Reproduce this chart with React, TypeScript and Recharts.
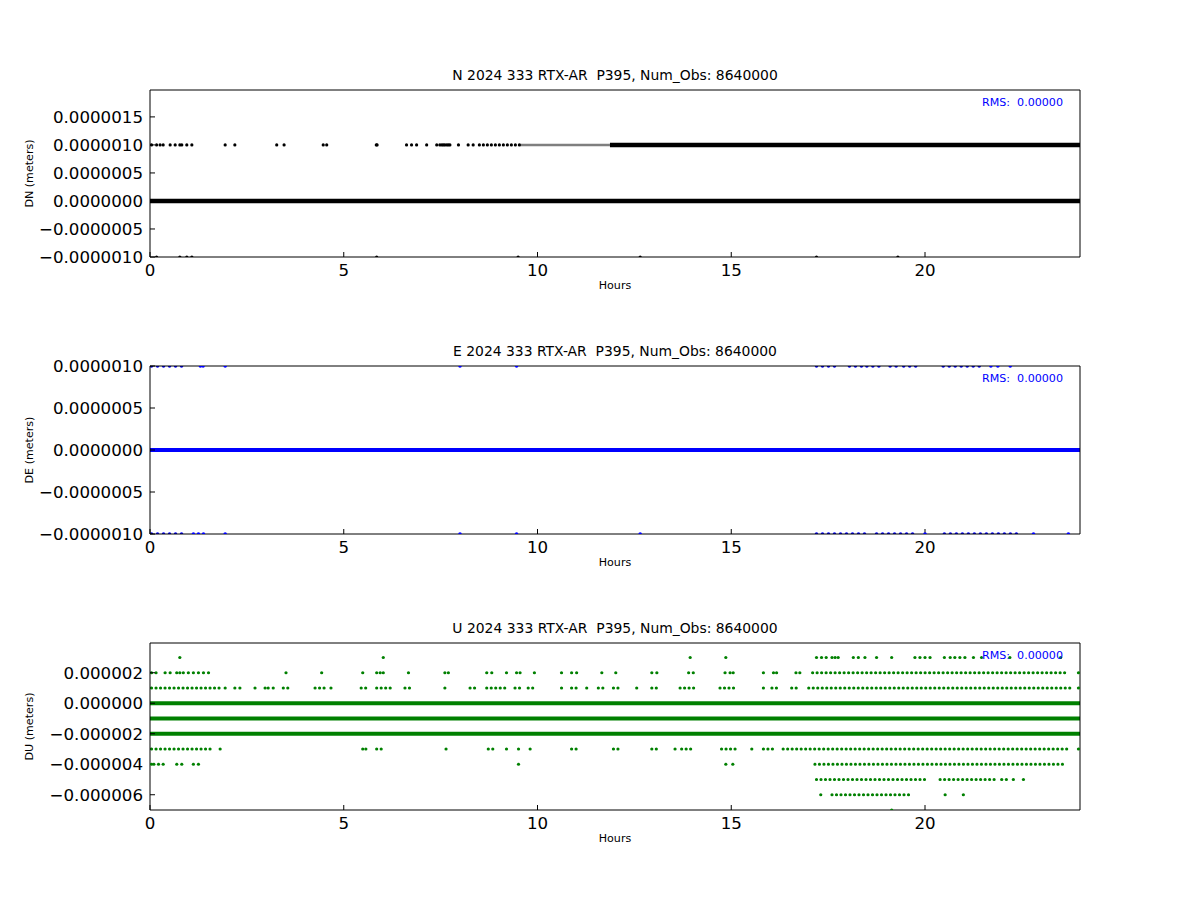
import { ComposedChart, Label, Line, Scatter, XAxis, YAxis } from 'recharts'

type Run = [number, number]
type Row = { v: number; solid?: Run[]; dense?: Run[]; faint?: Run[]; dots?: number[] }

const HOUR_TICKS = [0, 5, 10, 15, 20]

// N component (meters)
const N_TICKS = [-1e-6, -0.5e-6, 0, 0.5e-6, 1e-6, 1.5e-6]
const N_ZERO: Run[] = [[0, 24]]
const N_UP_SOLID: Run[] = [[11.87, 24]]
const N_UP_DENSE: Run[] = [[8.5, 9.55]]
const N_UP_FAINT: Run[] = [[9.55, 11.87]]
const N_UP_DOTS = [
  0.04, 0.17, 0.26, 0.34, 0.52, 0.65, 0.77, 0.82, 0.95, 1.08, 1.94, 2.19, 3.27, 3.46, 4.47, 4.56, 5.84, 5.86,
  6.62, 6.75, 6.88, 7.14, 7.4, 7.48, 7.53, 7.57, 7.61, 7.66, 7.7, 7.74, 7.96, 8.21, 8.34,
]
const N_DOWN_DOTS = [0.17, 0.77, 0.95, 1.08, 5.85, 9.5, 12.65, 17.2, 19.3]

// E component
const E_TICKS = [-1e-6, -0.5e-6, 0, 0.5e-6, 1e-6]
const E_ZERO: Run[] = [[0, 24]]
const E_UP_RUNS: Run[] = [[0.04, 0.95], [17.2, 17.8], [18.05, 18.4], [18.5, 18.9], [19.1, 19.35], [19.45, 19.87], [20.47, 21.42]]
const E_UP_DOTS = [1.3, 1.37, 1.94, 8.0, 9.46, 21.7, 21.88, 22.2]
const E_DOWN_RUNS: Run[] = [[0.04, 0.95], [17.2, 18.5], [18.75, 19.78], [20.5, 22.5]]
const E_DOWN_DOTS = [1.12, 1.25, 1.38, 1.94, 8.0, 9.46, 12.65, 20.0, 22.8, 23.7]

// U component
const U_TICKS = [-6e-6, -4e-6, -2e-6, 0, 2e-6]
const U_FULL: Run[] = [[0, 24]]
const U_P3_DOTS = [
  0.77, 6.02, 13.94, 14.86, 17.2, 17.33, 17.45, 17.6, 17.68, 17.76, 18.15, 18.28, 18.45, 18.75, 19.14, 19.74,
  19.87, 20.0, 20.13, 20.5, 20.65, 20.77, 20.9, 21.03, 21.25, 21.46, 22.19, 23.5,
]
const U_P2_RUNS: Run[] = [[0.04, 0.26], [17.1, 23.65]]
const U_P2_DOTS = [
  0.39, 0.52, 0.69, 0.77, 0.86, 0.99, 1.12, 1.25, 1.38, 1.51, 3.51, 4.43, 5.49, 5.85, 5.94, 6.02, 6.67, 7.61, 7.7,
  8.69, 8.82, 9.2, 9.46, 9.55, 9.92, 10.62, 10.88, 11.01, 11.66, 12.02, 12.95, 13.08, 13.9, 14.02, 14.84, 14.97,
  15.05, 15.83, 16.09, 16.17, 16.67, 16.77, 23.96,
]
const U_P1_RUNS: Run[] = [
  [0.04, 1.85], [3.44, 3.66], [4.26, 4.52], [5.45, 5.63], [5.85, 6.28], [6.58, 6.71], [7.61, 7.7], [8.26, 8.47],
  [8.69, 9.25], [9.42, 9.55], [9.76, 9.94], [10.88, 11.01], [11.57, 11.74], [11.96, 12.13], [12.95, 13.1],
  [13.68, 14.06], [14.71, 15.1], [16.05, 16.17], [16.56, 16.77], [17.0, 23.74],
]
const U_P1_DOTS = [1.94, 2.19, 2.32, 2.71, 2.97, 3.05, 3.18, 4.67, 10.62, 11.27, 12.56, 15.83, 23.96]
const U_M3_RUNS: Run[] = [
  [0.04, 1.55], [5.85, 6.02], [8.73, 8.86], [9.81, 9.89], [10.88, 11.01], [11.96, 12.09], [12.95, 13.1],
  [13.72, 14.06], [14.75, 15.14], [15.83, 16.17], [16.34, 23.74],
]
const U_M3_DOTS = [1.81, 5.49, 5.57, 7.64, 9.2, 9.51, 13.55, 15.53, 23.96]
const U_M4_RUNS: Run[] = [[17.16, 23.61]]
const U_M4_DOTS = [0.04, 0.1, 0.22, 0.34, 0.69, 0.82, 1.12, 1.25, 9.51, 14.86, 15.04]
const U_M5_RUNS: Run[] = [[17.2, 20.09], [20.39, 21.85]]
const U_M5_DOTS = [21.98, 22.1, 22.28, 22.54]
const U_M6_RUNS: Run[] = [[17.6, 19.61]]
const U_M6_DOTS = [17.31, 20.52, 20.99]
const U_M7_DOTS = [19.14]

const N_ROWS: Row[] = [
  { v: 1e-6, solid: N_UP_SOLID, dense: N_UP_DENSE, faint: N_UP_FAINT, dots: N_UP_DOTS },
  { v: 0, solid: N_ZERO },
  { v: -1e-6, dots: N_DOWN_DOTS },
]
const E_ROWS: Row[] = [
  { v: 1e-6, dense: E_UP_RUNS, dots: E_UP_DOTS },
  { v: 0, solid: E_ZERO },
  { v: -1e-6, dense: E_DOWN_RUNS, dots: E_DOWN_DOTS },
]
const U_ROWS: Row[] = [
  { v: 3e-6, dots: U_P3_DOTS },
  { v: 2e-6, dense: U_P2_RUNS, dots: U_P2_DOTS },
  { v: 1e-6, dense: U_P1_RUNS, dots: U_P1_DOTS },
  { v: 0, solid: U_FULL },
  { v: -1e-6, solid: U_FULL },
  { v: -2e-6, solid: U_FULL },
  { v: -3e-6, dense: U_M3_RUNS, dots: U_M3_DOTS },
  { v: -4e-6, dense: U_M4_RUNS, dots: U_M4_DOTS },
  { v: -5e-6, dense: U_M5_RUNS, dots: U_M5_DOTS },
  { v: -6e-6, dense: U_M6_RUNS, dots: U_M6_DOTS },
  { v: -7e-6, dots: U_M7_DOTS },
]

function segments(runs: Run[], v: number) {
  const pts: { h: number; v: number | null }[] = []
  runs.forEach(([a, b], i) => {
    if (i > 0) pts.push({ h: a, v: null })
    pts.push({ h: a, v }, { h: b, v })
  })
  return pts
}

type PanelProps = {
  top: number
  plotHeight: number
  title: string
  yLabel: string
  color: string
  domain: [number, number]
  ticks: number[]
  digits: number
  rows: Row[]
  band: number
  dotR: number
  gap: number
}

function Panel(p: PanelProps) {
  const fmt = (v: number) => {
    const s = Math.abs(v).toFixed(p.digits)
    return v < -1e-12 ? '\u2212' + s : s
  }
  const dots = p.rows.flatMap((r) => (r.dots ?? []).map((h) => ({ h, v: r.v })))
  const axisCommon = { stroke: '#000', tickSize: -5, allowDataOverflow: true }

  return (
    <div style={{ position: 'absolute', left: 0, top: p.top, width: 1200 }}>
      <ComposedChart width={1200} height={40 + p.plotHeight + 45} margin={{ top: 39, right: 119, bottom: 0, left: 20 }}>
        <XAxis
          {...axisCommon}
          dataKey="h"
          type="number"
          domain={[0, 24]}
          ticks={HOUR_TICKS}
          height={45}
          tickMargin={12}
          tick={{ fontSize: 16.67, fill: '#000' }}
        >
          <Label value="Hours" position="insideBottom" offset={13} fontSize={11.1} fill="#000" />
        </XAxis>
        <XAxis {...axisCommon} xAxisId="top" orientation="top" dataKey="h" type="number" domain={[0, 24]} ticks={HOUR_TICKS} height={1} tick={false}>
          <Label value={p.title} position="top" offset={9} fontSize={13.9} fill="#000" />
        </XAxis>
        <YAxis
          {...axisCommon}
          dataKey="v"
          type="number"
          domain={p.domain}
          ticks={p.ticks}
          width={130}
          tickMargin={12}
          tickFormatter={fmt}
          tick={{ fontSize: 16.67, fill: '#000' }}
        >
          <Label value={p.yLabel} position="insideLeft" angle={-90} offset={9} fontSize={11.1} fill="#000" textAnchor="middle" />
        </YAxis>
        <YAxis {...axisCommon} yAxisId="right" orientation="right" dataKey="v" type="number" domain={p.domain} ticks={p.ticks} width={1} tick={false} />

        {p.rows.map((r, i) => [
          r.solid && (
            <Line key={`s${i}`} data={segments(r.solid, r.v)} dataKey="v" type="linear" stroke={p.color} strokeWidth={p.band}
              dot={false} activeDot={false} isAnimationActive={false} connectNulls={false} />
          ),
          r.dense && (
            <Line key={`d${i}`} data={segments(r.dense, r.v)} dataKey="v" type="linear" stroke={p.color} strokeWidth={p.dotR * 2}
              strokeDasharray={`0 ${p.gap}`} strokeLinecap="round" dot={false} activeDot={false} isAnimationActive={false} connectNulls={false} />
          ),
          r.faint && (
            <Line key={`f${i}`} data={segments(r.faint, r.v)} dataKey="v" type="linear" stroke={p.color} strokeWidth={2.5}
              strokeOpacity={0.5} dot={false} activeDot={false} isAnimationActive={false} connectNulls={false} />
          ),
        ])}
        <Scatter
          data={dots}
          dataKey="v"
          fill={p.color}
          isAnimationActive={false}
          shape={(s: any) => <circle cx={s.cx} cy={s.cy} r={p.dotR} fill={p.color} />}
        />
      </ComposedChart>
      <div
        style={{
          position: 'absolute',
          left: 0,
          width: 1063,
          top: 46,
          textAlign: 'right',
          fontSize: 11.1,
          lineHeight: '13px',
          color: '#0000ff',
          whiteSpace: 'pre',
        }}
      >
        {'RMS:  0.00000'}
      </div>
    </div>
  )
}

export default function App() {
  return (
    <div
      style={{
        position: 'absolute',
        left: 0,
        top: 0,
        width: 1200,
        height: 900,
        background: '#fff',
        fontFamily: '"DejaVu Sans", sans-serif',
      }}
    >
      <Panel top={50} plotHeight={167} title={'N 2024 333 RTX-AR\u00a0 P395, Num_Obs: 8640000'} yLabel="DN (meters)" color="#000000"
        domain={[-1e-6, 1.98e-6]} ticks={N_TICKS} digits={7} rows={N_ROWS} band={4.5} dotR={1.6} gap={4} />
      <Panel top={326} plotHeight={168} title={'E 2024 333 RTX-AR\u00a0 P395, Num_Obs: 8640000'} yLabel="DE (meters)" color="#0000ff"
        domain={[-1e-6, 1e-6]} ticks={E_TICKS} digits={7} rows={E_ROWS} band={4} dotR={1.8} gap={6} />
      <Panel top={603} plotHeight={167} title={'U 2024 333 RTX-AR\u00a0 P395, Num_Obs: 8640000'} yLabel="DU (meters)" color="#008000"
        domain={[-7e-6, 3.95e-6]} ticks={U_TICKS} digits={6} rows={U_ROWS} band={4} dotR={1.6} gap={4.5} />
    </div>
  )
}
